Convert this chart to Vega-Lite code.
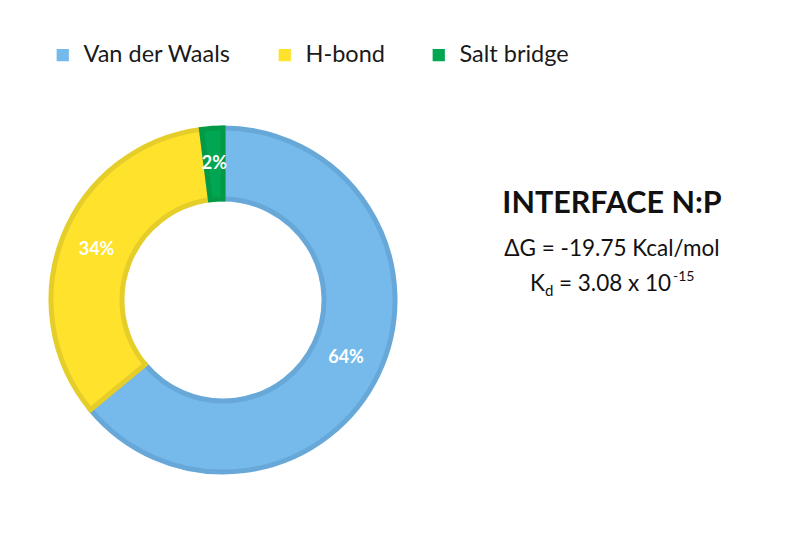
{
  "$schema": "https://vega.github.io/schema/vega-lite/v6.json",
  "width": 800,
  "height": 534,
  "autosize": {"type": "none"},
  "padding": 0,
  "background": "#ffffff",
  "config": {"view": {"stroke": null}, "font": "Lato"},
  "datasets": {
    "shares": [
      {"type": "Van der Waals", "share": 0.64, "rank": 1},
      {"type": "H-bond", "share": 0.34, "rank": 2},
      {"type": "Salt bridge", "share": 0.02, "rank": 3}
    ]
  },
  "layer": [
    {
      "data": {"name": "shares"},
      "mark": {"type": "arc", "outerRadius": 172, "innerRadius": 101, "strokeWidth": 5, "x": 223, "y": 300},
      "encoding": {
        "theta": {"field": "share", "type": "quantitative", "stack": true},
        "order": {"field": "rank", "type": "quantitative"},
        "color": {
          "field": "type", "type": "nominal",
          "scale": {"domain": ["Van der Waals", "H-bond", "Salt bridge"], "range": ["#75BAEB", "#FFE22C", "#00A651"]},
          "legend": {
            "title": null, "orient": "none", "legendX": 51, "legendY": 43, "direction": "horizontal",
            "symbolType": "square", "symbolSize": 150, "symbolStrokeWidth": 0,
            "labelFontSize": 23.5, "labelFont": "Lato", "labelColor": "#1a1a1a", "labelOffset": 9,
            "columnPadding": 42, "labelLimit": 300
          }
        },
        "stroke": {
          "field": "type", "type": "nominal",
          "scale": {"domain": ["Van der Waals", "H-bond", "Salt bridge"], "range": ["#67A8D9", "#E6CE2A", "#029A47"]},
          "legend": null
        }
      }
    },
    {
      "data": {"name": "shares"},
      "mark": {"type": "text", "radius": 136, "x": 223, "y": 300, "fontSize": 18, "fontWeight": "bold", "color": "#ffffff", "font": "Lato"},
      "encoding": {
        "theta": {"field": "share", "type": "quantitative", "stack": true},
        "order": {"field": "rank", "type": "quantitative"},
        "text": {"field": "share", "type": "quantitative", "format": ".0%"}
      }
    },
    {
      "data": {"values": [{"t": "INTERFACE N:P"}]},
      "mark": {"type": "text", "x": 612, "y": 204, "align": "center", "baseline": "middle", "fontSize": 30.5, "fontWeight": "bold", "color": "#111111", "font": "Lato"},
      "encoding": {"text": {"field": "t"}}
    },
    {
      "data": {"values": [{"t": "ΔG = -19.75 Kcal/mol"}]},
      "mark": {"type": "text", "x": 612, "y": 249, "align": "center", "baseline": "middle", "fontSize": 22.5, "color": "#111111", "font": "Lato"},
      "encoding": {"text": {"field": "t"}}
    },
    {
      "data": {"values": [{"t": "K"}]},
      "mark": {"type": "text", "x": 545, "y": 291, "align": "right", "baseline": "alphabetic", "fontSize": 22.5, "color": "#111111", "font": "Lato"},
      "encoding": {"text": {"field": "t"}}
    },
    {
      "data": {"values": [{"t": "d"}]},
      "mark": {"type": "text", "x": 545, "y": 296, "align": "left", "baseline": "alphabetic", "fontSize": 15, "color": "#111111", "font": "Lato"},
      "encoding": {"text": {"field": "t"}}
    },
    {
      "data": {"values": [{"t": "= 3.08 x 10"}]},
      "mark": {"type": "text", "x": 559, "y": 291, "align": "left", "baseline": "alphabetic", "fontSize": 22.5, "color": "#111111", "font": "Lato"},
      "encoding": {"text": {"field": "t"}}
    },
    {
      "data": {"values": [{"t": "-15"}]},
      "mark": {"type": "text", "x": 673, "y": 281, "align": "left", "baseline": "alphabetic", "fontSize": 14, "color": "#111111", "font": "Lato"},
      "encoding": {"text": {"field": "t"}}
    }
  ]
}
